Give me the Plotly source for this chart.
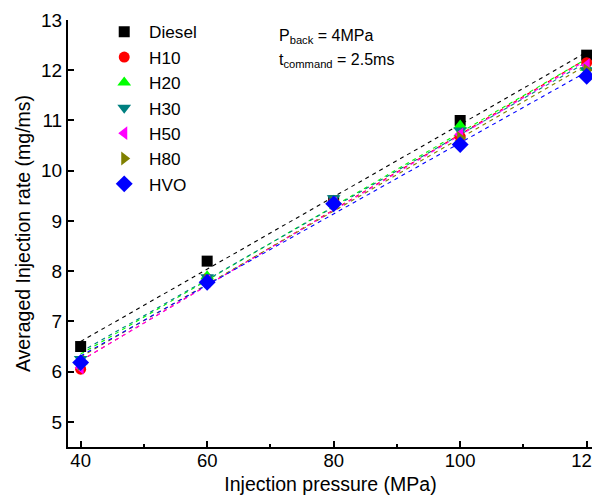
import numpy as np
import plotly.graph_objects as go

pressure = [40, 60, 80, 100, 120]
series_names = ["Diesel", "H10", "H20", "H30", "H50", "H80", "HVO"]
diesel = [6.5, 8.2, 9.4, 11.0, 12.3]
h10 = [6.05, 7.85, 9.38, 10.68, 12.15]
h20 = [6.2, 7.9, 9.4, 10.9, 12.05]
h30 = [6.25, 7.88, 9.45, 10.8, 12.0]
h50 = [6.08, 7.8, 9.35, 10.72, 12.1]
h80 = [6.15, 7.82, 9.36, 10.65, 12.0]
hvo = [6.18, 7.78, 9.34, 10.52, 11.88]
values = [diesel, h10, h20, h30, h50, h80, hvo]

colors = ["#000000", "#FF0000", "#00FF00", "#008080", "#FF00FF", "#808000", "#0000FF"]
symbols = ["square", "circle", "triangle-up", "triangle-down", "triangle-left", "triangle-right", "diamond"]
sizes = [11, 11, 12, 12, 12, 12, 13]

FONT = "Liberation Sans, Arial"

fig = go.Figure()
xfit = np.array([40, 120])
for name, vals, c in zip(series_names, values, colors):
    k, b = np.polyfit(pressure, vals, 1)
    fig.add_trace(go.Scatter(x=xfit, y=k * xfit + b, mode="lines",
                             line=dict(color=c, width=1.1, dash="4px,4px"),
                             showlegend=False, hoverinfo="skip"))
for name, vals, c, s, sz in zip(series_names, values, colors, symbols, sizes):
    fig.add_trace(go.Scatter(x=pressure, y=vals, mode="markers", name="\u00a0" + name,
                             marker=dict(color=c, symbol=s, size=sz, line=dict(width=0))))

def scr_to_val(ys):
    # plot top (13) at screen 20, bottom (4.5) at screen 447
    return 13 - (ys - 20) * (8.5 / 427)

fig.add_annotation(x=0.398, y=scr_to_val(36), xref="paper", yref="y", xanchor="left", yanchor="middle",
                   text="P<sub>back</sub> = 4MPa", showarrow=False, align="left",
                   font=dict(family=FONT, size=16, color="black"))
fig.add_annotation(x=0.398, y=scr_to_val(60), xref="paper", yref="y", xanchor="left", yanchor="middle",
                   text="t<sub>command</sub> = 2.5ms", showarrow=False, align="left",
                   font=dict(family=FONT, size=16, color="black"))

fig.update_layout(
    width=592, height=487,
    margin=dict(l=60, r=7, t=12, b=48, autoexpand=False),
    paper_bgcolor="white", plot_bgcolor="white",
    font=dict(family=FONT, color="black"),
    legend=dict(x=0.069, y=1.014, xanchor="left", yanchor="top",
                font=dict(size=17.2), bgcolor="rgba(0,0,0,0)", tracegroupgap=0,
                itemwidth=30),
    showlegend=True,
)
fig.update_xaxes(range=[38, 121], tickvals=[40, 60, 80, 100, 120],
                 showline=True, linecolor="black", linewidth=2, mirror=False,
                 ticks="inside", ticklen=6, tickwidth=2, tickcolor="black",
                 minor=dict(tickvals=[50, 70, 90, 110], ticks="inside", ticklen=3, tickwidth=1.5, tickcolor="black"),
                 showgrid=False, zeroline=False, automargin=False,
                 ticklabeloverflow="allow", ticklabelstandoff=-4,
                 tickfont=dict(size=18.5),
                 title=dict(text="Injection pressure (MPa)", font=dict(size=19.5), standoff=7))
fig.update_yaxes(range=[4.5, 13], tickvals=[5, 6, 7, 8, 9, 10, 11, 12, 13],
                 showline=True, linecolor="black", linewidth=2, mirror=False,
                 ticks="inside", ticklen=6, tickwidth=2, tickcolor="black",
                 showgrid=False, zeroline=False, automargin=False,
                 tickfont=dict(size=19),
                 title=dict(text="Averaged Injection rate (mg/ms)", font=dict(size=19.5), standoff=5))

fig.write_html("out.html")
